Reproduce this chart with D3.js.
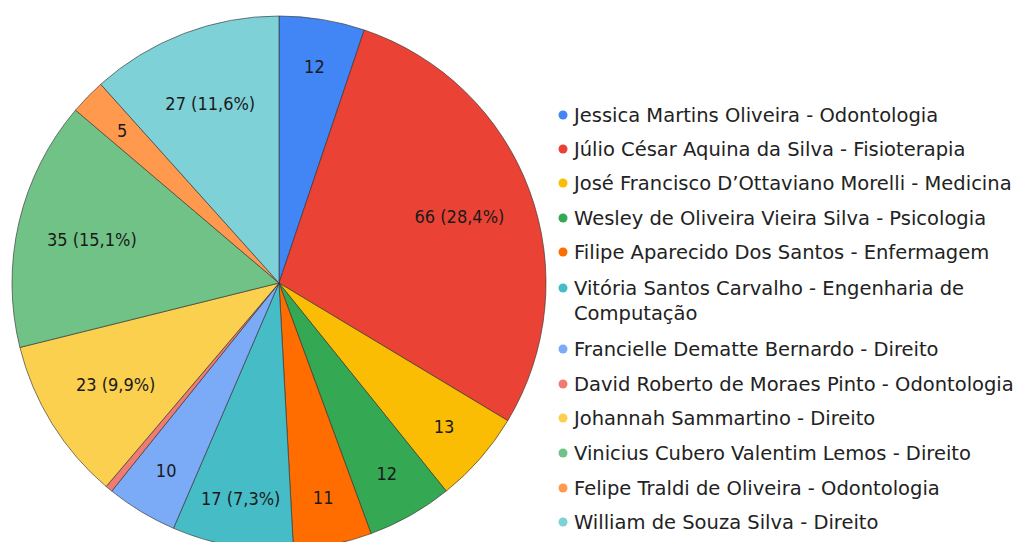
<!DOCTYPE html>
<html><head><meta charset="utf-8">
<script src="https://cdn.jsdelivr.net/npm/d3@7"></script>
<style>body{margin:0;background:#fff}svg{display:block}</style>
</head><body>
<svg id="c" width="1018" height="542"></svg>
<script>
const names = [
  "Jessica Martins Oliveira - Odontologia",
  "Júlio César Aquina da Silva - Fisioterapia",
  "José Francisco D’Ottaviano Morelli - Medicina",
  "Wesley de Oliveira Vieira Silva - Psicologia",
  "Filipe Aparecido Dos Santos - Enfermagem",
  "Vitória Santos Carvalho - Engenharia de Computação",
  "Francielle Dematte Bernardo - Direito",
  "David Roberto de Moraes Pinto - Odontologia",
  "Johannah Sammartino - Direito",
  "Vinicius Cubero Valentim Lemos - Direito",
  "Felipe Traldi de Oliveira - Odontologia",
  "William de Souza Silva - Direito"
];
const values = [12, 66, 13, 12, 11, 17, 10, 1, 23, 35, 5, 27];
const colors = ["#4285F4","#EA4335","#FBBC04","#34A853","#FF6D01","#46BDC6",
                "#7BAAF7","#F07B72","#FCD04F","#71C287","#FF994D","#7ED1D7"];

const svg = d3.select("#c");
const cx = 279, cy = 283, r = 267;
const total = d3.sum(values);
const pie = d3.pie().sort(null).value(d => d)(values);
const arc = d3.arc().innerRadius(0).outerRadius(r);
const g = svg.append("g").attr("transform", `translate(${cx},${cy})`);
g.selectAll("path").data(pie).join("path")
  .attr("d", arc)
  .attr("fill", (d, i) => colors[i])
  .attr("stroke", "#333")
  .attr("stroke-opacity", 0.8)
  .attr("stroke-width", 0.8);

const fmt = v => (v / total * 100).toFixed(1).replace(".", ",");
const showPct = d => d.value / total >= 0.07;
// wide slices get their label closer to the centre
const lr = d => r * ((d.endAngle - d.startAngle) > Math.PI / 6 ? 0.72 : 0.82);
g.selectAll("text.lab").data(pie.filter(d => d.value / total > 0.02)).join("text")
  .attr("class", "lab")
  .attr("x", d => Math.sin((d.startAngle + d.endAngle) / 2) * lr(d))
  .attr("y", d => -Math.cos((d.startAngle + d.endAngle) / 2) * lr(d))
  .attr("text-anchor", "middle")
  .attr("dominant-baseline", "central")
  .attr("font-family", "'DejaVu Sans Condensed', 'DejaVu Sans', sans-serif")
  .attr("font-size", 18)
  .attr("fill", "#1a1a1a")
  .text(d => showPct(d) ? `${d.value} (${fmt(d.value)}%)` : `${d.value}`);

// legend
const lx = 563;
const rowY = [115, 149, 183, 218, 252, 288, 349, 384, 418, 453, 488, 522];
const lg = svg.append("g");
names.forEach((n, i) => {
  const y = rowY[i];
  lg.append("circle").attr("cx", lx).attr("cy", y).attr("r", 4.5).attr("fill", colors[i]);
  const t = lg.append("text").attr("x", lx + 11).attr("y", y)
    .attr("dominant-baseline", "central")
    .attr("font-family", "'DejaVu Sans', sans-serif")
    .attr("font-size", 19.5).attr("fill", "#222");
  if (i === 5) {
    t.append("tspan").attr("x", lx + 11).text("Vitória Santos Carvalho - Engenharia de");
    t.append("tspan").attr("x", lx + 11).attr("dy", 25).text("Computação");
  } else t.text(n);
});
</script>
</body></html>
